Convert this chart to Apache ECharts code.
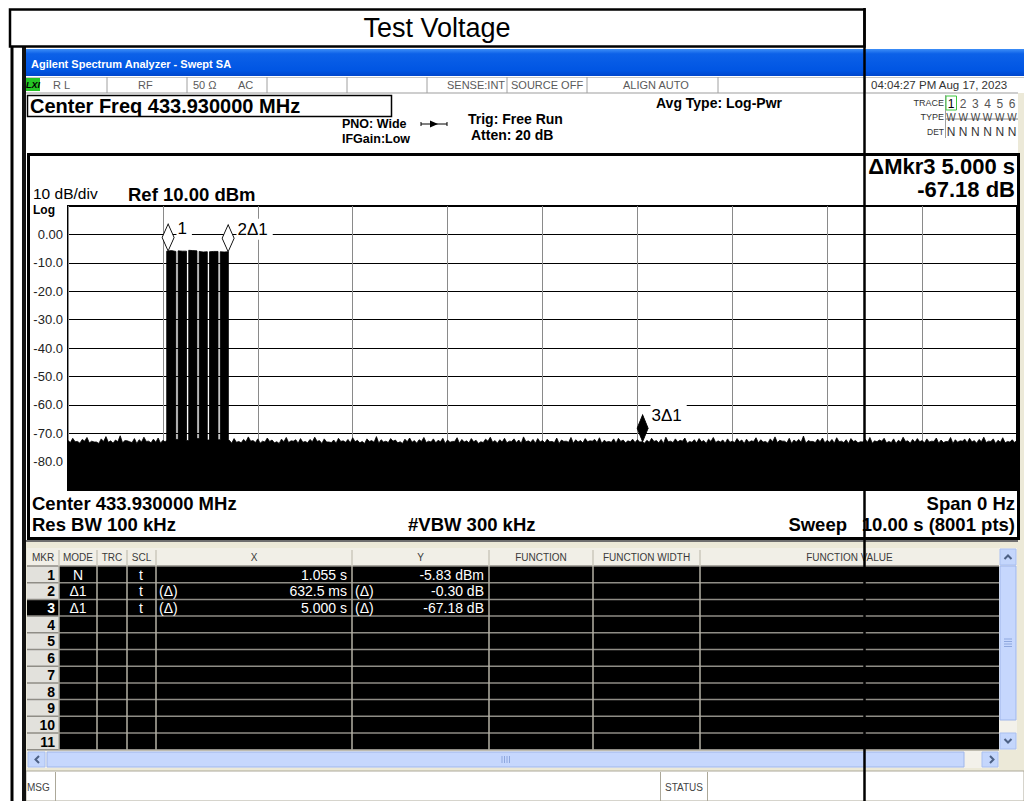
<!DOCTYPE html>
<html><head><meta charset="utf-8">
<script src="https://cdn.jsdelivr.net/npm/echarts@6/dist/echarts.min.js"></script>
<style>html,body{margin:0;padding:0;background:#fff;}#c{width:1024px;height:801px;}</style>
</head><body><div id="c"></div>
<script>
// ================= DATA =================
const chartTitle = 'Test Voltage';
const windowTitle = 'Agilent Spectrum Analyzer - Swept SA';
const yTickValues = [0, -10, -20, -30, -40, -50, -60, -70, -80];
const yTickLabels = ['0.00', '-10.0', '-20.0', '-30.0', '-40.0', '-50.0', '-60.0', '-70.0', '-80.0'];

// noise floor peak level (dBm), one reading every 0.05 s from 0 to 10 s
const noiseStep = 0.05;
const noiseLevels = [
  -72.6,-71.8,-72.9,-72.2,-71.5,-72.8,-73.1,-72.0,-71.2,-72.7,-72.4,-70.9,-72.6,-73.0,-71.9,-72.3,-71.4,-72.8,-72.1,-71.7,
  -72.5,-73.2,-72.0,-72.4,-72.9,-72.2,-72.6,-71.8,-72.3,-72.7,-72.1,-72.8,-72.4,-71.6,-72.5,-71.9,-72.9,-72.2,-71.3,-72.6,
  -72.0,-72.8,-71.7,-72.4,-73.0,-72.1,-71.5,-72.7,-72.3,-71.9,-72.9,-72.2,-71.4,-72.6,-72.0,-73.1,-72.4,-71.8,-72.7,-72.2,
  -71.6,-72.5,-72.9,-72.0,-72.6,-71.2,-72.3,-72.8,-71.9,-72.4,-73.0,-72.1,-71.7,-72.6,-72.3,-71.5,-72.8,-72.0,-72.5,-71.8,
  -72.4,-72.9,-71.6,-72.2,-72.7,-71.9,-72.5,-73.0,-72.1,-71.4,-72.6,-72.3,-71.8,-72.8,-72.0,-72.4,-71.3,-72.7,-72.2,-71.9,
  -72.6,-72.1,-72.9,-71.7,-72.4,-72.8,-71.5,-72.3,-72.6,-71.9,-72.7,-72.2,-71.6,-72.5,-72.9,-72.0,-71.8,-72.4,-72.7,-72.1,
  -72.3,-73.0,-72.5,-71.8,-72.6,-72.2,-71.4,-72.8,-72.0,-72.5,-71.7,-72.9,-72.3,-71.9,-72.6,-72.1,-71.5,-72.7,-72.4,-72.0,
  -72.8,-71.9,-72.4,-72.1,-72.7,-71.6,-72.3,-72.9,-72.0,-71.3,-72.5,-72.8,-71.8,-72.4,-72.2,-71.0,-72.6,-72.9,-72.1,-71.7,
  -72.5,-72.2,-71.6,-72.8,-72.3,-71.9,-72.6,-73.0,-72.1,-71.5,-72.7,-72.4,-71.8,-72.9,-72.0,-72.5,-71.4,-72.7,-72.2,-71.9,
  -72.6,-72.0,-72.8,-71.7,-72.4,-72.9,-71.5,-72.3,-72.7,-72.1,-71.8,-72.6,-72.2,-71.4,-72.8,-72.0,-72.5,-71.6,-72.9,-72.3,
  -72.4
];
// readings half-way between the ones above (t = 0.025 s, 0.075 s, ...)
const noiseLevelsHalf = [
  -73.3,-73.0,-73.5,-72.8,-73.4,-73.1,-73.6,-72.9,-73.2,-73.5,-73.0,-73.4,-72.7,-73.3,-73.6,-73.1,-72.9,-73.4,-73.2,-73.5,
  -73.1,-73.6,-72.9,-73.3,-73.0,-73.5,-73.2,-72.8,-73.4,-73.1,-73.6,-73.0,-73.3,-72.9,-73.5,-73.2,-73.4,-73.0,-72.8,-73.3,
  -73.5,-73.1,-72.9,-73.4,-73.6,-73.0,-73.3,-72.8,-73.5,-73.2,-73.4,-73.0,-72.9,-73.6,-73.1,-73.3,-73.5,-72.9,-73.2,-73.4,
  -73.0,-73.4,-73.6,-72.9,-73.2,-73.5,-73.1,-73.3,-72.8,-73.4,-73.6,-73.0,-73.2,-73.5,-72.9,-73.3,-73.1,-73.4,-73.0,-73.6,
  -73.2,-72.9,-73.5,-73.1,-73.4,-73.0,-73.6,-73.3,-72.8,-73.2,-73.5,-73.1,-73.4,-72.9,-73.3,-73.6,-73.0,-73.2,-73.5,-73.1,
  -73.4,-73.0,-73.3,-73.6,-72.9,-73.2,-73.5,-73.1,-73.4,-73.0,-72.8,-73.3,-73.6,-73.1,-73.2,-73.5,-72.9,-73.4,-73.0,-73.3,
  -73.1,-73.5,-73.2,-72.9,-73.4,-73.6,-73.0,-73.3,-73.1,-72.8,-73.5,-73.2,-73.4,-73.0,-73.6,-72.9,-73.3,-73.1,-73.5,-73.2,
  -73.3,-73.0,-73.6,-73.2,-72.9,-73.4,-73.1,-73.5,-73.0,-73.3,-72.8,-73.4,-73.6,-73.1,-73.2,-73.5,-72.9,-73.3,-73.0,-73.4,
  -73.2,-73.5,-73.0,-73.3,-73.6,-72.9,-73.4,-73.1,-73.2,-73.5,-73.0,-72.8,-73.4,-73.3,-73.6,-73.1,-72.9,-73.5,-73.2,-73.0,
  -73.4,-73.1,-72.9,-73.5,-73.3,-73.0,-73.6,-73.2,-72.8,-73.4,-73.1,-73.5,-73.0,-73.3,-72.9,-73.6,-73.2,-73.4,-73.1,-73.3
];

// burst: six on-segments separated by short drop-outs
const burstSegStart = [1.040, 1.160, 1.272, 1.382, 1.491, 1.604];
const burstSegMid   = [1.090, 1.205, 1.315, 1.425, 1.535, 1.645];
const burstSegEnd   = [1.137, 1.249, 1.359, 1.468, 1.581, 1.690];
const burstTopStart = [-5.9, -5.8, -5.6, -6.0, -6.1, -6.1];
const burstTopMid   = [-5.7, -5.9, -5.7, -6.2, -6.0, -6.2];
const burstTopEnd   = [-6.0, -5.9, -5.8, -6.1, -6.0, -6.1];
const burstGapLevel = [-72.2, -72.6, -71.9, -72.4, -72.3];
const burstEdgeLevel = [-72.4, -72.3];

// markers
const markerNames  = ['1', '2Δ1', '3Δ1'];
const markerTimes  = [1.055, 1.6875, 6.055];
const markerLevels = [-5.83, -6.13, -73.01];
const markerActive = [false, false, true];

// header / annotation texts
const centerFreqText = 'Center Freq 433.930000 MHz';
const statusCells = ['R L', 'RF', '50 Ω', 'AC', 'SENSE:INT', 'SOURCE OFF', 'ALIGN AUTO'];
const dateText = '04:04:27 PM Aug 17, 2023';
const traceNums = ['1', '2', '3', '4', '5', '6'];
const deltaMkrLines = ['ΔMkr3 5.000 s', '-67.18 dB'];

// marker table
const tableHeaders = ['MKR', 'MODE', 'TRC', 'SCL', 'X', 'Y', 'FUNCTION', 'FUNCTION WIDTH', 'FUNCTION VALUE'];
const tableRowNums = ['1', '2', '3', '4', '5', '6', '7', '8', '9', '10', '11'];
const mkrMode = ['N', 'Δ1', 'Δ1'];
const mkrScl  = ['t', 't', 't'];
const mkrXRef = ['', '(Δ)', '(Δ)'];
const mkrX    = ['1.055 s', '632.5 ms', '5.000 s'];
const mkrYRef = ['', '(Δ)', '(Δ)'];
const mkrY    = ['-5.83 dBm', '-0.30 dB', '-67.18 dB'];
const selectedRow = 2;

// ================= BUILD TRACE =================
const burstFirst = burstSegStart[0];
const burstLast = burstSegEnd[burstSegEnd.length - 1];
const noisePts = [];
for (let i = 0; i < noiseLevels.length; i++) {
  const t = +(i * noiseStep).toFixed(4);
  noisePts.push([t, noiseLevels[i]]);
  if (i < noiseLevelsHalf.length) noisePts.push([+(t + noiseStep / 2).toFixed(4), noiseLevelsHalf[i]]);
}
const trace = noisePts.filter(p => p[0] < burstFirst);
trace.push([burstFirst, burstEdgeLevel[0]]);
for (let s = 0; s < burstSegStart.length; s++) {
  trace.push([burstSegStart[s], burstTopStart[s]]);
  trace.push([burstSegMid[s], burstTopMid[s]]);
  trace.push([burstSegEnd[s], burstTopEnd[s]]);
  if (s < burstSegStart.length - 1) {
    trace.push([burstSegEnd[s], burstGapLevel[s]]);
    trace.push([burstSegStart[s + 1], burstGapLevel[s]]);
  }
}
trace.push([burstLast, burstEdgeLevel[1]]);
noisePts.filter(p => p[0] > burstLast).forEach(p => trace.push(p));

// ================= GRAPHIC HELPERS =================
const FONT = "'Liberation Sans', Arial, sans-serif";
const g = [];
function rect(x, y, w, h, fill, stroke, lw, z) {
  g.push({ type: 'rect', silent: true, z: z || 1, shape: { x, y, width: w, height: h },
    style: { fill: fill || 'none', stroke: stroke || null, lineWidth: lw || 0 } });
}
function line(x1, y1, x2, y2, stroke, lw, z) {
  g.push({ type: 'line', silent: true, z: z || 2, shape: { x1, y1, x2, y2 },
    style: { stroke, lineWidth: lw || 1 } });
}
function poly(points, stroke, lw, fill, z) {
  g.push({ type: fill ? 'polygon' : 'polyline', silent: true, z: z || 3, shape: { points },
    style: { stroke: stroke || null, lineWidth: lw || 1, fill: fill || 'none' } });
}
function text(x, y, str, font, fill, align, z) {
  g.push({ type: 'text', silent: true, z: z || 4,
    style: { x, y, text: str, font, fill: fill || '#000', align: align || 'left', verticalAlign: 'middle' } });
}

// ---- outer annotation frame ----
rect(10, 9.5, 854.5, 37, null, '#000', 2.5, 50);
text(437, 28, chartTitle, '27px ' + FONT, '#000', 'center', 51);
line(12, 46, 12, 801, '#000', 3, 50);
line(864.5, 8, 864.5, 801, '#000', 2.5, 100);

// ---- window chrome ----
rect(22, 47, 4, 754, '#111', null, 0, 5);
g.push({ type: 'rect', silent: true, z: 1, shape: { x: 26, y: 49, width: 998, height: 27 },
  style: { fill: { type: 'linear', x: 0, y: 0, x2: 0, y2: 1, colorStops: [
    { offset: 0, color: '#3d8ef7' }, { offset: 0.18, color: '#0c61e8' },
    { offset: 0.8, color: '#0055e3' }, { offset: 1, color: '#0046cc' }] } } });
text(31, 64, windowTitle, 'bold 11px ' + FONT, '#fff', 'left');

// status row
rect(26, 77, 992, 16, '#fff', null, 0, 1);
line(26, 93, 1018, 93, '#9d9d9d', 1);
line(26, 77.5, 1024, 77.5, '#c8c8c8', 1);
[107, 187, 267, 347, 427, 507, 587, 718, 865].forEach(x => line(x, 77, x, 93, '#a0a0a0', 1));
rect(26, 78, 14, 13, '#25c425', null, 0, 2);
text(33, 84.5, 'LXI', 'italic bold 9px ' + FONT, '#000', 'center');
const statusX = [53, 138, 193, 238, 447, 511, 623];
statusCells.forEach((s, i) => text(statusX[i], 85, s, '11px ' + FONT, '#5a5a5a', 'left'));
text(871, 85, dateText, '11.5px ' + FONT, '#333', 'left');

// right gray border
rect(1018, 93, 6, 678, '#ece9d8', null, 0, 1);

// center freq box & settings
rect(27.5, 95.5, 364, 21, null, '#000', 1.5, 2);
text(30, 106, centerFreqText, 'bold 20px ' + FONT, '#000', 'left');
text(342, 124, 'PNO: Wide', 'bold 12.5px ' + FONT, '#000', 'left');
text(342, 139, 'IFGain:Low', 'bold 12.5px ' + FONT, '#000', 'left');
line(421, 124, 447, 124, '#000', 1);
poly([[430, 120.5], [438, 124], [430, 127.5]], null, 1, '#000');
line(421, 122, 421, 126, '#000', 1);
line(447, 122, 447, 126, '#000', 1);
text(468, 119, 'Trig: Free Run', 'bold 14px ' + FONT, '#000', 'left');
text(471, 135, 'Atten: 20 dB', 'bold 14px ' + FONT, '#000', 'left');
text(656, 103, 'Avg Type: Log-Pwr', 'bold 14px ' + FONT, '#000', 'left');

// trace block
line(945.5, 95, 945.5, 138, '#a0a0a0', 1);
text(944, 102.5, 'TRACE', '9px ' + FONT, '#333', 'right');
text(944, 117, 'TYPE', '9px ' + FONT, '#333', 'right');
text(944, 131.5, 'DET', '8.5px ' + FONT, '#333', 'right');
rect(946, 96, 10.5, 14, null, '#3cc63c', 1, 3);
traceNums.forEach((n, i) => {
  const cx = 951 + i * 12.2;
  text(cx, 103.5, n, '12px ' + FONT, i === 0 ? '#000' : '#555', 'center');
  text(cx, 117.5, 'W', '10px ' + FONT, '#444', 'center');
  text(cx, 131.5, 'N', '12px ' + FONT, '#333', 'center');
});
line(946, 119, 1018, 119, '#666', 0.8);

// ---- graph panel ----
rect(28.5, 154.5, 990, 384, null, '#000', 3, 6);
text(33, 193, '10 dB/div', '15.5px ' + FONT, '#000', 'left');
text(33, 210, 'Log', 'bold 12px ' + FONT, '#000', 'left');
text(128, 194, 'Ref 10.00 dBm', 'bold 18.5px ' + FONT, '#000', 'left');
text(1015, 166, deltaMkrLines[0], 'bold 22px ' + FONT, '#000', 'right');
text(1015, 189, deltaMkrLines[1], 'bold 22px ' + FONT, '#000', 'right');
text(32, 503, 'Center 433.930000 MHz', 'bold 18.5px ' + FONT, '#000', 'left');
text(32, 524, 'Res BW 100 kHz', 'bold 18.5px ' + FONT, '#000', 'left');
text(408, 524, '#VBW 300 kHz', 'bold 18.5px ' + FONT, '#000', 'left');
text(1015, 503, 'Span 0 Hz', 'bold 18.5px ' + FONT, '#000', 'right');
text(847, 524, 'Sweep', 'bold 18.5px ' + FONT, '#000', 'right');
text(1015, 524, '10.00 s (8001 pts)', 'bold 18.5px ' + FONT, '#000', 'right');

// ---- marker table ----
rect(26, 540, 998, 231, '#ece9d8', null, 0, 1);
line(26, 541, 1018, 541, '#6f6f6f', 2);
const colX = [27, 59, 97, 127, 156, 352, 489, 593, 700, 999];
const headTop = 548, bodyTop = 566, rowH = 16.7, nRows = 11;
const bodyBottom = bodyTop + rowH * nRows;
rect(27, headTop, 972, bodyTop - headTop, '#f1efe7', null, 0, 2);
rect(59, bodyTop, 940, rowH * nRows, '#000', null, 0, 2);
rect(27, bodyTop, 32, rowH * nRows, '#e2e1dc', null, 0, 2);
rect(27, bodyTop + rowH * selectedRow, 32, rowH, '#000', null, 0, 2);
for (let k = 0; k <= nRows; k++) line(27, bodyTop + rowH * k, 999, bodyTop + rowH * k, '#8f8d86', 1.5, 3);
for (let c = 1; c < colX.length - 1; c++) {
  line(colX[c], headTop + 2, colX[c], bodyTop, '#cbc8bc', 1.5, 3);
  line(colX[c], bodyTop, colX[c], bodyBottom, '#b3b0a5', 1.5, 3);
}
tableHeaders.forEach((h, i) => text((colX[i] + colX[i + 1]) / 2, 557, h, '10px ' + FONT, '#3a3a3a', 'center'));
tableRowNums.forEach((n, i) => {
  const cy = bodyTop + rowH * i + 8.6;
  text(55, cy, n, 'bold 14px ' + FONT, i === selectedRow ? '#fff' : '#000', 'right');
});
mkrMode.forEach((m, i) => {
  const cy = bodyTop + rowH * i + 8.6;
  const f = '14px ' + FONT;
  text(78, cy, m, f, '#fff', 'center');
  text(141, cy, mkrScl[i], f, '#fff', 'center');
  if (mkrXRef[i]) text(159, cy, mkrXRef[i], f, '#fff', 'left');
  text(347, cy, mkrX[i], f, '#fff', 'right');
  if (mkrYRef[i]) text(355, cy, mkrYRef[i], f, '#fff', 'left');
  text(484, cy, mkrY[i], f, '#fff', 'right');
});

// vertical scrollbar
rect(999, 548, 18, bodyBottom - 548, '#f3f1ea', null, 0, 2);
rect(1000, 549, 16, 16, '#c4d6fc', '#a9bff0', 1, 3);
poly([[1004.5, 559], [1008, 555.5], [1011.5, 559]], '#4d6185', 2);
rect(1000, 566, 16, 154, '#c6d7fd', '#9fb6ea', 1, 3);
[639, 641.5, 644, 646.5].forEach(y => line(1004, y, 1012, y, '#8ea7de', 1, 4));
rect(1000, 733, 16, 16, '#c4d6fc', '#a9bff0', 1, 3);
poly([[1004.5, 739], [1008, 742.5], [1011.5, 739]], '#4d6185', 2);

// horizontal scrollbar
rect(27, 751, 972, 17, '#f3f1ea', null, 0, 2);
rect(28, 752, 17, 15, '#c4d6fc', '#a9bff0', 1, 3);
poly([[39, 756], [35.5, 759.5], [39, 763]], '#4d6185', 2);
rect(47, 752, 917, 15, '#c6d7fd', '#9fb6ea', 1, 3);
[502, 504.5, 507, 509.5].forEach(x => line(x, 756, x, 763, '#8ea7de', 1, 4));
rect(982, 752, 16, 15, '#c4d6fc', '#a9bff0', 1, 3);
poly([[990, 756], [993.5, 759.5], [990, 763]], '#4d6185', 2);

// message bar
rect(26, 771, 998, 30, '#fff', '#aca899', 1, 2);
line(55.5, 772, 55.5, 801, '#aca899', 1);
line(660.5, 772, 660.5, 801, '#aca899', 1);
line(707.5, 772, 707.5, 801, '#aca899', 1);
text(27, 787, 'MSG', '10px ' + FONT, '#444', 'left');
text(684, 787, 'STATUS', '10px ' + FONT, '#444', 'center');

// ================= CHART =================
const chart = echarts.init(document.getElementById('c'), null, { renderer: 'svg' });
chart.setOption({
  animation: false,
  backgroundColor: '#fff',
  grid: { left: 68, right: 7, top: 206, bottom: 311, show: true, borderColor: '#000', borderWidth: 2, backgroundColor: 'transparent' },
  xAxis: {
    type: 'value', min: 0, max: 10, interval: 1,
    axisLine: { show: false }, axisTick: { show: false }, axisLabel: { show: false },
    splitLine: { show: true, lineStyle: { color: '#8a8a8a', width: 1 } }
  },
  yAxis: {
    type: 'value', min: -90, max: 10, interval: 10,
    axisLine: { show: false }, axisTick: { show: false },
    axisLabel: {
      margin: 5, color: '#222', fontSize: 13, fontFamily: 'Liberation Sans',
      formatter: v => { const i = yTickValues.indexOf(v); return i < 0 ? '' : yTickLabels[i]; }
    },
    splitLine: { show: true, lineStyle: { color: '#000', width: 1 } }
  },
  series: [{
    type: 'line', data: trace, symbol: 'none', showSymbol: false, silent: true,
    lineStyle: { color: '#000', width: 0.8 },
    areaStyle: { color: '#000', opacity: 1, origin: 'start' },
    markPoint: {
      animation: false, silent: true,
      data: markerNames.map((n, i) => ({
        name: n, coord: [markerTimes[i], markerLevels[i]],
        symbol: 'diamond', symbolSize: [markerActive[i] ? 11 : 12, 27], symbolOffset: [0, '-50%'],
        itemStyle: { color: markerActive[i] ? '#000' : '#fff', borderColor: '#000', borderWidth: 1 },
        label: {
          show: true, formatter: '{b}', position: 'right', distance: 2,
          offset: [0, markerActive[i] ? -13 : -9],
          color: '#000', fontSize: 17, fontFamily: 'Liberation Sans',
          backgroundColor: '#fff', padding: [2, 5, 2, 1]
        }
      }))
    }
  }],
  graphic: { elements: g }
});
</script></body></html>
